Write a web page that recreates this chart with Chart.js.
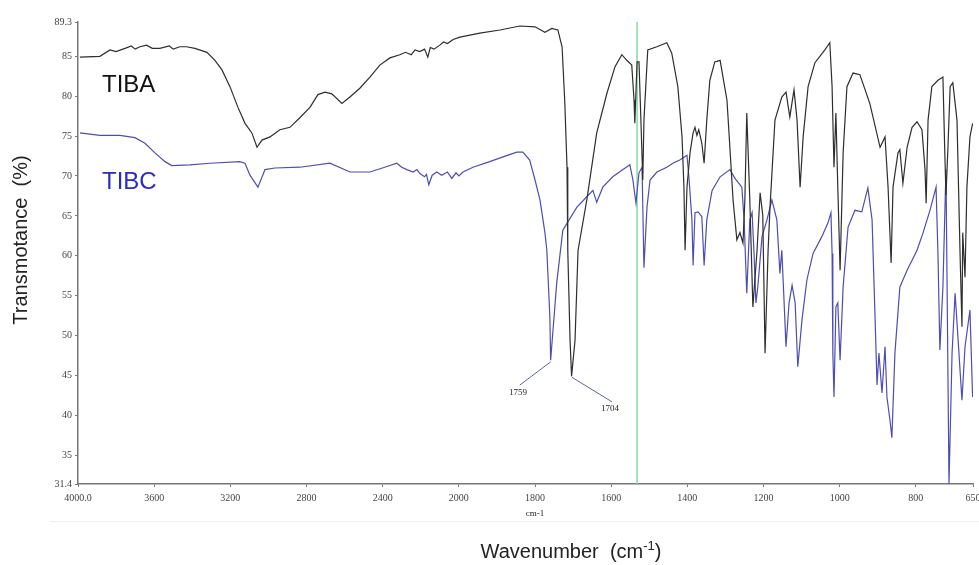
<!DOCTYPE html>
<html>
<head>
<meta charset="utf-8">
<script src="https://cdn.jsdelivr.net/npm/chart.js@4.4.1/dist/chart.umd.min.js"></script>
<style>
html, body { margin: 0; padding: 0; background: #fff; }
#wrap { width: 979px; height: 565px; position: relative; }
</style>
</head>
<body>
<div id="wrap"><canvas id="irChart"></canvas></div>
<script>
// wavenumber (cm-1) and transmittance (%)
const tibaWave = [3990,3885,3832,3800,3753,3720,3700,3675,3640,3610,
  3570,3520,3500,3465,3430,3386,3323,3281,
  3244,3202,3160,3123,3087,3060,3034,2992,2940,2887,
  2835,2782,2740,2703,2667,2614,2572,2520,2467,2415,
  2362,2310,2280,2250,2230,2205,2180,2163,2150,2130,
  2100,2080,2060,2030,1997,1945,1892,1840,1800,1774,
  1756,1740,1729,1722,1716,1714,1708,1704,1695,1687,
  1664,1638,1611,1590,1572,1559,1546,1540,1538,1532,
  1527,1522,1517,1514,1504,1480,1454,1441,1425,1414,
  1409,1406,1401,1393,1385,1380,1375,1370,1362,1356,
  1349,1341,1328,1314,1296,1288,1280,1275,1270,1262,
  1254,1249,1244,1236,1228,1217,1209,1202,1196,1188,
  1183,1170,1152,1141,1131,1120,1112,1104,1096,1083,
  1065,1039,1026,1020,1015,1010,1005,999,991,981,
  965,947,921,894,881,873,865,860,847,842,
  834,823,810,797,784,776,773,768,758,742,
  729,724,721,716,710,703,692,684,679,677,
  671,666,658,651];
const tibaT = [84.9,85.0,85.8,85.6,86.0,86.3,85.9,86.2,86.4,86.0,
  86.0,86.3,85.9,86.2,86.2,86.0,85.5,84.5,
  83.3,81.2,78.6,76.6,75.4,73.6,74.5,74.9,75.8,76.1,
  77.3,78.6,80.2,80.5,80.3,79.1,79.9,81.0,82.4,83.9,
  84.8,85.2,85.5,85.2,85.8,85.6,85.9,84.9,86.1,85.9,
  86.4,86.8,86.6,87.1,87.4,87.9,88.3,88.8,88.7,88.0,
  88.5,88.3,86.2,79.5,71.1,60.7,49.4,44.9,49.4,60.7,
  67.0,75.4,80.4,83.7,85.2,84.5,83.9,79.5,76.6,84.3,
  84.3,77.0,69.5,77.0,85.8,86.2,86.7,85.4,81.2,74.9,
  68.6,60.7,68.6,72.9,75.4,76.1,75.1,75.8,74.1,71.6,
  77.0,82.0,84.3,84.5,79.5,73.3,67.0,64.5,62.0,62.9,
  61.6,67.0,77.9,67.0,53.6,60.7,67.9,65.1,47.8,60.7,
  66.1,77.0,79.9,80.5,77.4,80.8,77.0,68.6,74.9,81.2,
  84.2,85.8,86.7,81.2,71.1,77.9,68.6,58.2,72.9,81.2,
  82.9,82.7,79.1,73.6,74.9,68.6,59.1,68.6,72.9,73.3,
  69.1,73.6,76.1,76.8,75.8,70.8,66.6,77.0,81.2,82.0,
  82.4,72.9,67.6,73.3,81.2,81.7,77.0,60.3,51.1,62.9,
  57.3,68.6,74.9,76.6];

const tibcWave = [3990,3885,3780,3701,3648,3596,3543,3507,3412,3307,
  3150,3123,3097,3055,3018,2966,2835,2677,2572,2467,
  2389,2326,2300,2273,2240,2220,2205,2180,2170,2158,
  2140,2116,2090,2060,2037,2015,2000,1989,1963,1919,
  1884,1848,1832,1814,1800,1787,1774,1769,1761,1759,
  1743,1727,1690,1664,1648,1638,1622,1596,1569,1551,
  1543,1535,1527,1519,1514,1506,1498,1480,1454,1438,
  1420,1401,1396,1388,1385,1380,1372,1362,1356,1349,
  1335,1314,1288,1275,1257,1251,1244,1236,1230,1225,
  1220,1215,1204,1191,1178,1165,1157,1152,1144,1141,
  1133,1125,1117,1110,1099,1086,1070,1047,1031,1023,
  1020,1018,1015,1010,1005,999,991,978,960,942,
  926,915,907,902,897,889,881,876,868,863,
  855,842,823,797,781,763,747,742,737,729,
  721,713,705,697,689,679,671,658,651];
const tibcT = [75.4,75.1,75.1,74.8,74.1,72.9,71.8,71.3,71.4,71.6,
  71.8,71.6,70.1,68.6,70.8,71.0,71.1,71.6,70.5,70.5,
  71.1,71.6,71.1,70.8,70.5,70.8,70.3,69.9,70.2,68.9,
  70.1,70.5,70.1,70.5,69.7,70.4,70.0,70.5,71.1,71.8,
  72.4,73.0,73.0,72.0,69.5,67.0,62.9,60.7,52.3,46.9,
  56.6,63.2,66.1,67.4,68.2,66.7,68.6,69.9,70.8,71.4,
  69.5,66.6,70.4,71.1,58.5,66.1,69.5,70.5,71.1,71.6,
  72.0,72.6,69.9,64.5,58.8,65.4,65.5,64.9,58.8,64.5,
  68.2,69.9,70.8,69.7,68.6,64.5,55.3,64.5,65.4,60.3,
  54.1,56.1,62.4,64.5,67.0,64.5,57.8,60.7,52.0,48.6,
  54.1,56.3,54.1,46.1,52.0,57.0,60.3,62.4,64.1,65.4,
  60.3,47.8,42.3,53.6,54.1,46.9,56.1,63.6,65.7,65.5,
  68.5,64.5,52.0,43.8,47.8,42.8,48.6,42.3,39.4,37.2,
  47.8,56.1,58.2,60.7,62.9,65.7,68.6,60.3,48.2,56.1,
  70.8,31.4,47.8,55.3,49.4,41.9,48.6,53.2,42.3];

const xTicks = [4000, 3600, 3200, 2800, 2400, 2000, 1800, 1600, 1400, 1200, 1000, 800, 650];
const yTicks = [31.4, 35, 40, 45, 50, 55, 60, 65, 70, 75, 80, 85, 89.3];

// peak labels: [text, peak wavenumber, peak T, text wavenumber, text T, leader end wavenumber, leader end T]
const peakLabels = [
  ['1759', 1759, 46.7, 1845, 42.9, 1840, 43.8],
  ['1704', 1704, 44.8, 1603, 40.9, 1598, 41.7]
];
const markerWave = 1532;

// IR instrument axis: 4000-2000 drawn at half the scale of 2000-650
class WaveScale extends Chart.LinearScale {
  getPixelForValue(value) {
    const w = value >= 2000 ? 4000 - value : 2000 + 2 * (2000 - value);
    return this.getPixelForDecimal(w / 4700);
  }
  getValueForPixel(pixel) {
    const w = this.getDecimalForPixel(pixel) * 4700;
    return w <= 2000 ? 4000 - w : 2000 - (w - 2000) / 2;
  }
}
WaveScale.id = 'wave';
Chart.register(WaveScale);

function toPoints(xs, ys) {
  return xs.map((x, i) => ({ x: x, y: ys[i] }));
}

const extras = {
  id: 'extras',
  beforeDatasetsDraw(chart) {
    const c = chart.ctx, a = chart.chartArea;
    const px = chart.scales.x.getPixelForValue(markerWave);
    c.save();
    c.strokeStyle = '#86dba0';
    c.lineWidth = 1.5;
    c.beginPath();
    c.moveTo(px, a.top);
    c.lineTo(px, a.bottom);
    c.stroke();
    c.restore();
  },
  afterDraw(chart) {
    const c = chart.ctx, a = chart.chartArea;
    const xs = chart.scales.x, ys = chart.scales.y;
    c.save();
    // peak annotations
    peakLabels.forEach(p => {
      c.strokeStyle = '#5a64aa';
      c.lineWidth = 1;
      c.beginPath();
      c.moveTo(xs.getPixelForValue(p[1]), ys.getPixelForValue(p[2]));
      c.lineTo(xs.getPixelForValue(p[5]), ys.getPixelForValue(p[6]));
      c.stroke();
      c.fillStyle = '#222';
      c.font = '9px "Liberation Serif"';
      c.textAlign = 'center';
      c.textBaseline = 'middle';
      c.fillText(p[0], xs.getPixelForValue(p[3]), ys.getPixelForValue(p[4]));
    });
    // series names
    c.font = '24px "Liberation Sans"';
    c.textAlign = 'left';
    c.textBaseline = 'middle';
    c.fillStyle = '#111';
    c.fillText('TIBA', a.left + 24, 85);
    c.fillStyle = '#2a2ac4';
    c.fillText('TIBC', a.left + 24, 182);
    // unit under the axis
    c.fillStyle = '#222';
    c.font = '9px "Liberation Serif"';
    c.textAlign = 'center';
    c.fillText('cm-1', 535, 514);
    // faint frame edge
    c.strokeStyle = '#eeeeee';
    c.lineWidth = 1;
    c.beginPath();
    c.moveTo(50, 521.5);
    c.lineTo(979, 521.5);
    c.stroke();
    // axis titles
    c.fillStyle = '#222';
    const t1 = 'Wavenumber  (cm', t3 = ')';
    c.font = '20px "Liberation Sans"';
    const w1 = c.measureText(t1).width, w3 = c.measureText(t3).width;
    c.font = '13px "Liberation Sans"';
    const w2 = c.measureText('-1').width;
    const sx = 571 - (w1 + w2 + w3) / 2;
    c.textAlign = 'left';
    c.textBaseline = 'alphabetic';
    c.font = '20px "Liberation Sans"';
    c.fillText(t1, sx, 558);
    c.font = '13px "Liberation Sans"';
    c.fillText('-1', sx + w1, 550);
    c.font = '20px "Liberation Sans"';
    c.fillText(t3, sx + w1 + w2, 558);
    c.translate(21, 240);
    c.rotate(-Math.PI / 2);
    c.textAlign = 'center';
    c.textBaseline = 'middle';
    c.fillText('Transmotance  (%)', 0, 0);
    c.restore();
  }
};

new Chart(document.getElementById('irChart'), {
  type: 'line',
  data: {
    datasets: [
      {
        label: 'TIBA',
        data: toPoints(tibaWave, tibaT),
        borderColor: '#2e2e2e',
        borderWidth: 1.2,
        pointRadius: 0,
        tension: 0
      },
      {
        label: 'TIBC',
        data: toPoints(tibcWave, tibcT),
        borderColor: '#4d4db4',
        borderWidth: 1.2,
        pointRadius: 0,
        tension: 0
      }
    ]
  },
  options: {
    responsive: true,
    maintainAspectRatio: false,
    animation: false,
    layout: { padding: { top: 22, right: 6, left: 0, bottom: 0 } },
    plugins: { legend: { display: false }, tooltip: { enabled: false } },
    scales: {
      x: {
        type: 'wave',
        min: 650,
        max: 4000,
        afterBuildTicks: s => { s.ticks = xTicks.map(v => ({ value: v })); },
        afterFit: s => { s.height = 81; s.paddingLeft = 0; s.paddingRight = 0; },
        grid: { drawOnChartArea: false, drawTicks: true, tickLength: 3, color: '#777' },
        border: { color: '#777', width: 1.5 },
        ticks: {
          autoSkip: false,
          maxRotation: 0,
          padding: 5,
          color: '#444',
          font: { family: 'Liberation Serif', size: 10 },
          callback: v => v === 4000 ? '4000.0' : String(v)
        }
      },
      y: {
        min: 31.4,
        max: 89.3,
        afterBuildTicks: s => { s.ticks = yTicks.map(v => ({ value: v })); },
        afterFit: s => { s.width = 78; s.paddingTop = 0; s.paddingBottom = 0; },
        grid: { drawOnChartArea: false, drawTicks: true, tickLength: 3, color: '#777' },
        border: { color: '#777', width: 1.5 },
        ticks: {
          autoSkip: false,
          padding: 3,
          color: '#444',
          font: { family: 'Liberation Serif', size: 10 },
          callback: v => String(v)
        }
      }
    }
  },
  plugins: [extras]
});
</script>
</body>
</html>
